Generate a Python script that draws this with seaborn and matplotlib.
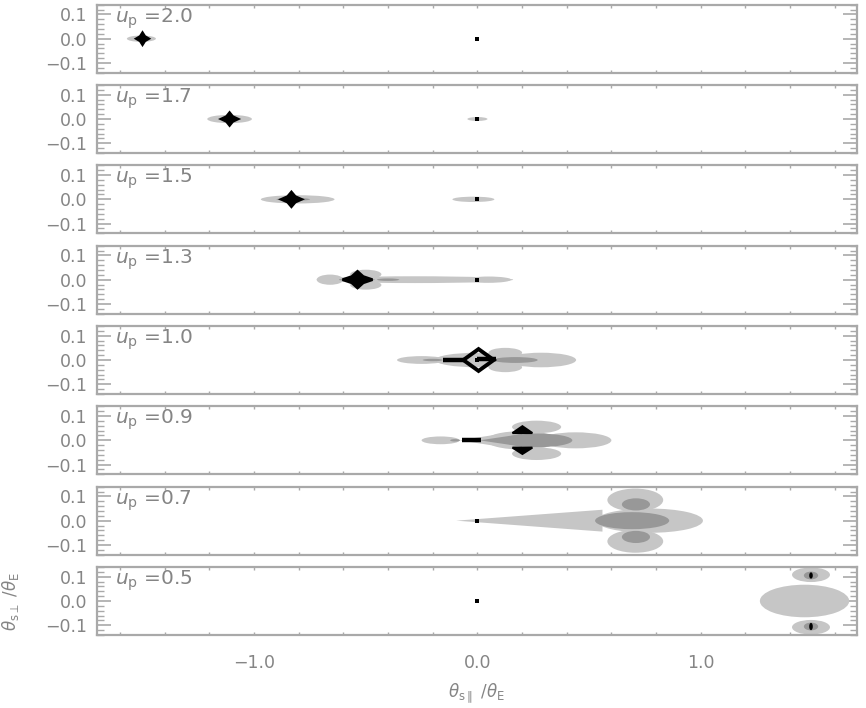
import numpy as np
import pandas as pd
import matplotlib
matplotlib.use('Agg')
import matplotlib.pyplot as plt
from matplotlib.patches import Ellipse, Polygon
from matplotlib.ticker import MultipleLocator
import seaborn as sns

# panel labels (u_p), top to bottom
u_p = ['2.0', '1.7', '1.5', '1.3', '1.0', '0.9', '0.7', '0.5']

# light grey regions: (panel, x, y, half width, half height)
light_blobs = [
    (0, -1.505, 0.0, 0.065, 0.013),
    (1, -1.11, 0.0, 0.10, 0.017),
    (1, 0.0, 0.0, 0.045, 0.008),
    (2, -0.805, 0.0, 0.165, 0.017),
    (2, -0.018, 0.0, 0.094, 0.011),
    (3, -0.66, 0.0, 0.06, 0.021),
    (3, -0.28, 0.0, 0.44, 0.014),
    (3, 0.05, 0.0, 0.10, 0.013),
    (3, -0.50, 0.022, 0.07, 0.019),
    (3, -0.50, -0.022, 0.07, 0.019),
    (4, -0.25, 0.0, 0.11, 0.016),
    (4, 0.0, 0.0, 0.19, 0.030),
    (4, 0.125, 0.030, 0.075, 0.020),
    (4, 0.125, -0.030, 0.075, 0.020),
    (4, 0.285, 0.0, 0.157, 0.030),
    (5, -0.165, 0.0, 0.085, 0.016),
    (5, 0.20, 0.0, 0.16, 0.038),
    (5, 0.265, 0.055, 0.11, 0.026),
    (5, 0.265, -0.055, 0.11, 0.026),
    (5, 0.44, 0.0, 0.16, 0.033),
    (6, 0.77, 0.0, 0.24, 0.050),
    (6, 0.707, 0.085, 0.125, 0.047),
    (6, 0.707, -0.085, 0.125, 0.047),
    (7, 1.465, 0.0, 0.20, 0.067),
    (7, 1.494, 0.108, 0.085, 0.030),
    (7, 1.494, -0.108, 0.085, 0.030),
]
# light grey wedges: (panel, tip x, end x, half height at end)
light_wedges = [
    (5, -0.08, 0.20, 0.040),
    (6, -0.095, 0.56, 0.045),
]

# darker grey regions
mid_blobs = [
    (2, -0.825, 0.0, 0.075, 0.006),
    (3, -0.40, 0.0, 0.05, 0.005),
    (3, -0.54, 0.0, 0.08, 0.007),
    (4, -0.20, 0.0, 0.045, 0.005),
    (4, 0.17, 0.0, 0.10, 0.012),
    (5, -0.10, 0.0, 0.022, 0.005),
    (5, 0.27, 0.0, 0.155, 0.028),
    (6, 0.693, 0.0, 0.166, 0.035),
    (6, 0.71, 0.067, 0.063, 0.025),
    (6, 0.71, -0.067, 0.063, 0.025),
    (7, 1.494, 0.105, 0.032, 0.016),
    (7, 1.494, -0.105, 0.032, 0.016),
]
mid_wedges = [
    (5, 0.01, 0.20, 0.026),
]

# caustics drawn in black
# four-cusp caustics: (panel, x, half width, half height)
caustic_diamonds = [
    (0, -1.50, 0.027, 0.024),
    (1, -1.11, 0.037, 0.026),
    (2, -0.833, 0.045, 0.030),
    (3, -0.537, 0.067, 0.034),
]
# central caustic outline of the u_p=1.0 panel: (panel, x, half width, half height)
caustic_outline = [(4, 0.005, 0.068, 0.045)]
# straight caustic segments: (panel, x0, x1, y)
caustic_bars = [
    (4, -0.155, -0.06, 0.0),
    (4, 0.0, 0.085, 0.004),
    (5, -0.067, 0.018, 0.0),
]
# triangular caustics: (panel, x left, x right, y base, y apex)
caustic_triangles = [
    (5, 0.157, 0.246, 0.030, 0.058),
    (5, 0.157, 0.246, -0.030, -0.056),
]
# small black marks: (panel, x, y, half width, half height)
black_blobs = [
    (7, 1.494, 0.105, 0.008, 0.013),
    (7, 1.494, -0.105, 0.008, 0.015),
]
# lens position markers
dot_panel = [0, 1, 2, 3, 4, 5, 6, 7]
dot_x = [0.0, 0.0, 0.0, 0.0, 0.0, 0.0, 0.0, 0.0]
dot_y = [0.0, 0.0, 0.0, 0.0, 0.0, 0.0, 0.0, 0.0]

light = '#c6c6c6'
mid = '#989898'
frame = '#a9a9a9'
txt = '#858585'

sns.set_style('white')
plt.rcParams['font.family'] = ['DejaVu Sans']
plt.rcParams['mathtext.fontset'] = 'dejavusans'

fig = plt.figure(figsize=(8.66, 7.08), dpi=100)
gs = fig.add_gridspec(8, 1, left=0.1117, right=0.9896, top=0.9934,
                      bottom=0.1031, hspace=0.181)
axes = [fig.add_subplot(gs[i, 0]) for i in range(8)]

dots = pd.DataFrame({'panel': dot_panel, 'x': dot_x, 'y': dot_y})


def add_ellipses(ax, rows, p, color, z):
    for (pp, x, y, hw, hh) in rows:
        if pp == p:
            ax.add_patch(Ellipse((x, y), 2 * hw, 2 * hh, facecolor=color,
                                 edgecolor='none', zorder=z))


def add_wedges(ax, rows, p, color, z):
    for (pp, x0, x1, hh) in rows:
        if pp == p:
            ax.add_patch(Polygon([(x0, 0), (x1, hh), (x1, -hh)], closed=True,
                                 facecolor=color, edgecolor='none', zorder=z))


for p, ax in enumerate(axes):
    add_ellipses(ax, light_blobs, p, light, 1)
    add_wedges(ax, light_wedges, p, light, 1)
    add_ellipses(ax, mid_blobs, p, mid, 2)
    add_wedges(ax, mid_wedges, p, mid, 2)
    add_ellipses(ax, black_blobs, p, 'black', 4)

    for (pp, x, hw, hh) in caustic_diamonds:
        if pp == p:
            k = 0.38
            ax.add_patch(Polygon([(x - hw, 0), (x - k * hw, k * hh), (x, hh),
                                  (x + k * hw, k * hh), (x + hw, 0),
                                  (x + k * hw, -k * hh), (x, -hh),
                                  (x - k * hw, -k * hh)],
                                 closed=True, facecolor='black',
                                 edgecolor='black', lw=2.0, zorder=4))
    for (pp, x, hw, hh) in caustic_outline:
        if pp == p:
            ax.add_patch(Polygon([(x - hw, 0), (x, hh), (x + hw, 0), (x, -hh)],
                                 closed=True, facecolor='none',
                                 edgecolor='black', lw=2.8, zorder=4))
    for (pp, x0, x1, y) in caustic_bars:
        if pp == p:
            ax.plot([x0, x1], [y, y], color='black', lw=3.2,
                    solid_capstyle='butt', zorder=4)
    for (pp, xl, xr, yb, ya) in caustic_triangles:
        if pp == p:
            ax.add_patch(Polygon([(xl, yb), (xr, yb), ((xl + xr) / 2, ya)],
                                 closed=True, facecolor='black',
                                 edgecolor='black', lw=1.5, zorder=4))

    sns.scatterplot(data=dots[dots['panel'] == p], x='x', y='y', ax=ax,
                    marker='s', s=9, color='black', linewidth=0, zorder=5,
                    legend=False)

    ax.set_xlim(-1.705, 1.70)
    ax.set_ylim(-0.14, 0.14)
    ax.set_xlabel('')
    ax.set_ylabel('')
    ax.xaxis.set_major_locator(MultipleLocator(1.0))
    ax.xaxis.set_minor_locator(MultipleLocator(0.2))
    ax.yaxis.set_major_locator(MultipleLocator(0.1))
    ax.yaxis.set_minor_locator(MultipleLocator(0.02))
    ax.tick_params(axis='y', which='both', direction='in', left=True,
                   right=True, colors=frame, labelcolor=txt, labelsize=12.5,
                   pad=7)
    ax.tick_params(axis='y', which='major', length=10, width=1.2)
    ax.tick_params(axis='y', which='minor', length=5, width=1.0)
    ax.tick_params(axis='x', which='both', direction='in', bottom=True,
                   top=True, colors=frame, labelcolor=txt, labelsize=12.5,
                   length=2.5, width=1.0, pad=14)
    ax.set_yticks([-0.1, 0.0, 0.1])
    ax.set_yticklabels(['\u22120.1', '0.0', '0.1'])
    if p < 7:
        ax.tick_params(axis='x', labelbottom=False)
    else:
        ax.set_xticks([-1.0, 0.0, 1.0])
        ax.set_xticklabels(['\u22121.0', '0.0', '1.0'])
    for s in ax.spines.values():
        s.set_color(frame)
        s.set_linewidth(1.6)
    ax.text(0.024, 0.98, r'$u_{\rm p}$ =' + u_p[p], transform=ax.transAxes,
            ha='left', va='top', fontsize=14.5, color=txt)

axes[-1].set_xlabel(r'$\theta_{\rm s\parallel}\ /\theta_{\rm E}$',
                    fontsize=12, color=txt, labelpad=6)
axes[-1].set_ylabel(r'$\theta_{\rm s\perp}\ /\theta_{\rm E}$',
                    fontsize=12, color=txt)
axes[-1].yaxis.set_label_coords(-0.1, 0.5)

fig.savefig('out.png', dpi=100)
